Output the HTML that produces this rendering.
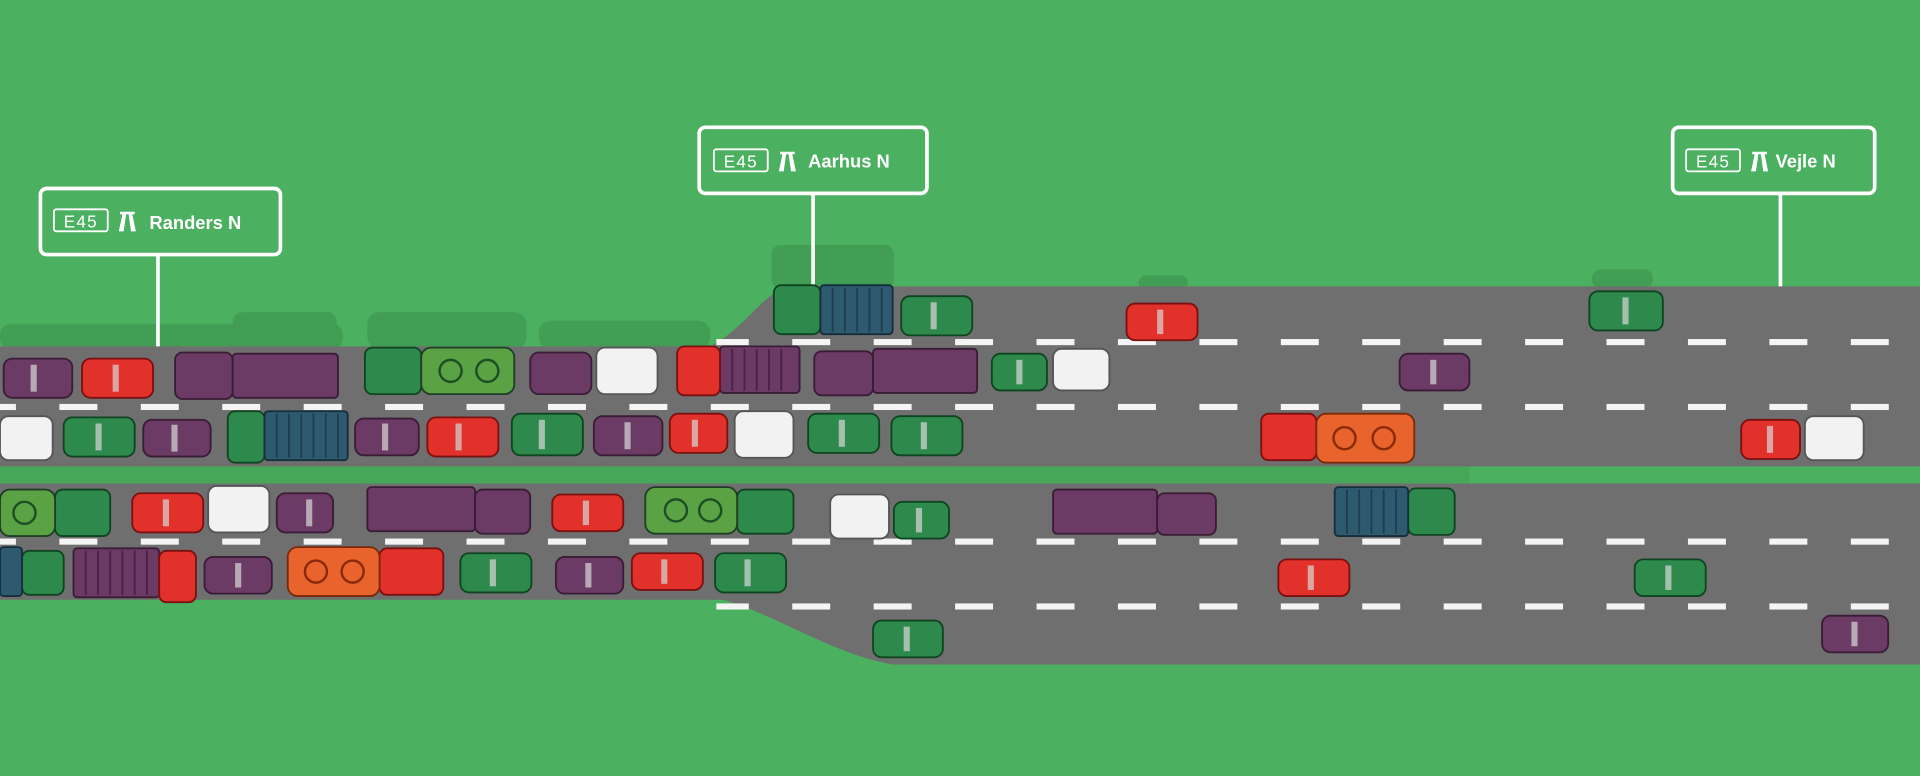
<!DOCTYPE html>
<html><head><meta charset="utf-8"><style>
html,body{margin:0;padding:0;background:#4bb060;overflow:hidden}
svg{display:block}
</style></head><body>
<svg width="1920" height="776" viewBox="0 0 1568 634" preserveAspectRatio="none" xmlns="http://www.w3.org/2000/svg">
<rect width="1568" height="634" fill="#4bb060"/>
<!-- shadows -->
<g fill="#3f9a52" opacity="0.8">
<rect x="0" y="265" width="280" height="20" rx="8"/>
<rect x="300" y="255" width="130" height="30" rx="10"/>
<rect x="440" y="262" width="140" height="23" rx="10"/>
<rect x="630" y="200" width="100" height="36" rx="8"/>
<rect x="190" y="255" width="85" height="30" rx="8"/>
<rect x="930" y="225" width="40" height="12" rx="6"/>
<rect x="1300" y="220" width="50" height="16" rx="8"/>
<rect x="0" y="381" width="1200" height="14" opacity="0.5"/>
</g>
<!-- roads -->
<path d="M0,283 L580,283 C605,270 615,250 640,234 L1568,234 L1568,381 L0,381 Z" fill="#6f6f6f"/>
<path d="M0,395 L1568,395 L1568,543 L730,543 C680,535 630,500 590,490 L0,490 Z" fill="#6f6f6f"/>
<!-- dashes -->
<g fill="#f4f4f4">
<rect x="585" y="277" width="983" height="5" fill="url(#d1)"/>
</g>
<defs>
<pattern id="dp" x="-18" y="0" width="66.5" height="5" patternUnits="userSpaceOnUse"><rect x="0" y="0" width="31" height="5" fill="#f4f4f4"/></pattern>
</defs>
<rect x="585" y="277" width="960" height="5" fill="url(#dp)"/>
<rect x="0" y="330" width="1550" height="5" fill="url(#dp)"/>
<rect x="0" y="440" width="1550" height="5" fill="url(#dp)"/>
<rect x="585" y="493" width="960" height="5" fill="url(#dp)"/>

<!-- signs -->
<g fill="none" stroke="#fff" stroke-width="3">
<rect x="33" y="154" width="196" height="54" rx="5"/>
<line x1="129" y1="208" x2="129" y2="283"/>
<rect x="571" y="104" width="186" height="54" rx="5"/>
<line x1="664" y1="158" x2="664" y2="234"/>
<rect x="1366" y="104" width="165" height="54" rx="5"/>
<line x1="1454" y1="158" x2="1454" y2="234"/>
<rect x="44" y="171" width="44" height="18" rx="2" stroke-width="1.5"/>
<rect x="583" y="122" width="44" height="18" rx="2" stroke-width="1.5"/>
<rect x="1377" y="122" width="44" height="18" rx="2" stroke-width="1.5"/>
</g>
<g fill="#fff" font-family="Liberation Sans, sans-serif" font-weight="bold">
<text x="66" y="186" font-size="14" text-anchor="middle" font-weight="normal" letter-spacing="1">E45</text>
<text x="605" y="137" font-size="14" text-anchor="middle" font-weight="normal" letter-spacing="1">E45</text>
<text x="1399" y="137" font-size="14" text-anchor="middle" font-weight="normal" letter-spacing="1">E45</text>
<text x="122" y="187" font-size="15">Randers N</text>
<text x="660" y="137" font-size="15">Aarhus N</text>
<text x="1450" y="137" font-size="15">Vejle N</text>
<path d="M98,173h12v2h-12zM100,175l-3,14h4l2-14zM108,175l3,14h-4l-2-14z"/>
<path d="M637,124h12v2h-12zM639,126l-3,14h4l2-14zM647,126l3,14h-4l-2-14z"/>
<path d="M1431,124h12v2h-12zM1433,126l-3,14h4l2-14zM1441,126l3,14h-4l-2-14z"/>
</g>

<!-- vehicles -->
<g stroke-width="1.5">
<!-- cars: body + windshield -->
<g stroke="#3a1c36" fill="#6b3a65">
<rect x="3" y="293" width="56" height="32" rx="7"/><rect x="117" y="343" width="55" height="30" rx="7"/>
<rect x="290" y="342" width="52" height="30" rx="7"/><rect x="485" y="340" width="56" height="32" rx="7"/>
<rect x="433" y="288" width="50" height="34" rx="7"/><rect x="226" y="403" width="46" height="32" rx="7"/>
<rect x="167" y="455" width="55" height="30" rx="7"/><rect x="454" y="455" width="55" height="30" rx="7"/>
<rect x="1143" y="289" width="57" height="30" rx="7"/><rect x="1488" y="503" width="54" height="30" rx="7"/>
<rect x="143" y="288" width="47" height="38" rx="6"/><rect x="190" y="289" width="86" height="36" rx="3"/>
<rect x="588" y="283" width="65" height="38" rx="3"/>
<rect x="665" y="287" width="48" height="36" rx="6"/><rect x="713" y="285" width="85" height="36" rx="3"/>
<rect x="300" y="398" width="88" height="36" rx="3"/><rect x="388" y="400" width="45" height="36" rx="6"/>
<rect x="860" y="400" width="85" height="36" rx="3"/><rect x="945" y="403" width="48" height="34" rx="6"/>
<rect x="60" y="448" width="70" height="40" rx="3"/>
</g>
<g stroke="#7a1010" fill="#e2302a">
<rect x="67" y="293" width="58" height="32" rx="7"/><rect x="349" y="341" width="58" height="32" rx="7"/>
<rect x="547" y="338" width="47" height="32" rx="7"/><rect x="920" y="248" width="58" height="30" rx="7"/>
<rect x="108" y="403" width="58" height="32" rx="7"/><rect x="451" y="404" width="58" height="30" rx="7"/>
<rect x="516" y="452" width="58" height="30" rx="7"/><rect x="1044" y="457" width="58" height="30" rx="7"/>
<rect x="1422" y="343" width="48" height="32" rx="7"/>
<rect x="553" y="283" width="35" height="40" rx="6"/><rect x="1030" y="338" width="45" height="38" rx="6"/>
<rect x="130" y="450" width="30" height="42" rx="6"/><rect x="310" y="448" width="52" height="38" rx="6"/>
</g>
<g stroke="#0f4420" fill="#2e8a4c">
<rect x="52" y="341" width="58" height="32" rx="7"/><rect x="418" y="338" width="58" height="34" rx="7"/>
<rect x="660" y="338" width="58" height="32" rx="7"/><rect x="728" y="340" width="58" height="32" rx="7"/>
<rect x="810" y="289" width="45" height="30" rx="7"/><rect x="736" y="242" width="58" height="32" rx="7"/>
<rect x="1298" y="238" width="60" height="32" rx="7"/><rect x="730" y="410" width="45" height="30" rx="7"/>
<rect x="376" y="452" width="58" height="32" rx="7"/><rect x="584" y="452" width="58" height="32" rx="7"/>
<rect x="1335" y="457" width="58" height="30" rx="7"/><rect x="713" y="507" width="57" height="30" rx="7"/>
<rect x="298" y="284" width="46" height="38" rx="6"/><rect x="186" y="336" width="30" height="42" rx="6"/>
<rect x="632" y="233" width="38" height="40" rx="6"/><rect x="45" y="400" width="45" height="38" rx="6"/>
<rect x="602" y="400" width="46" height="36" rx="6"/><rect x="1150" y="399" width="38" height="38" rx="6"/>
<rect x="18" y="450" width="34" height="36" rx="6"/>
</g>
<g stroke="#1e3f24" fill="#5ba244">
<rect x="344" y="284" width="76" height="38" rx="8"/><rect x="0" y="400" width="45" height="38" rx="8"/>
<rect x="527" y="398" width="75" height="38" rx="8"/>
</g>
<g stroke="#7a2a0a" fill="#e8642c">
<rect x="1075" y="338" width="80" height="40" rx="8"/><rect x="235" y="447" width="75" height="40" rx="8"/>
</g>
<g stroke="#142f3a" fill="#2e5a70">
<rect x="216" y="336" width="68" height="40" rx="3"/><rect x="670" y="233" width="59" height="40" rx="3"/>
<rect x="1090" y="398" width="60" height="40" rx="3"/><rect x="0" y="447" width="18" height="40" rx="3"/>
</g>
<g stroke="#555" fill="#f2f2f2">
<rect x="487" y="284" width="50" height="38" rx="7"/><rect x="0" y="340" width="43" height="36" rx="7"/>
<rect x="600" y="336" width="48" height="38" rx="7"/><rect x="860" y="285" width="46" height="34" rx="7"/>
<rect x="170" y="397" width="50" height="38" rx="7"/><rect x="678" y="404" width="48" height="36" rx="7"/>
<rect x="1474" y="340" width="48" height="36" rx="7"/>
</g>
</g>
<!-- windshields -->
<g fill="#d8d8d8" opacity="0.7">
<rect x="25" y="298" width="5" height="22"/><rect x="92" y="298" width="5" height="22"/>
<rect x="140" y="347" width="5" height="22"/><rect x="312" y="346" width="5" height="22"/>
<rect x="372" y="346" width="5" height="22"/><rect x="440" y="343" width="5" height="24"/>
<rect x="510" y="345" width="5" height="22"/><rect x="565" y="343" width="5" height="22"/>
<rect x="78" y="346" width="5" height="22"/><rect x="685" y="343" width="5" height="22"/>
<rect x="752" y="345" width="5" height="22"/><rect x="830" y="294" width="5" height="20"/>
<rect x="945" y="253" width="5" height="20"/><rect x="760" y="247" width="5" height="22"/>
<rect x="1325" y="243" width="5" height="22"/><rect x="1168" y="294" width="5" height="20"/>
<rect x="1443" y="348" width="5" height="22"/><rect x="133" y="408" width="5" height="22"/>
<rect x="476" y="409" width="5" height="20"/><rect x="748" y="415" width="5" height="20"/>
<rect x="192" y="460" width="5" height="20"/><rect x="400" y="457" width="5" height="22"/>
<rect x="478" y="460" width="5" height="20"/><rect x="540" y="457" width="5" height="20"/>
<rect x="608" y="457" width="5" height="22"/><rect x="1068" y="462" width="5" height="20"/>
<rect x="1360" y="462" width="5" height="20"/><rect x="738" y="512" width="5" height="20"/>
<rect x="1512" y="508" width="5" height="20"/><rect x="250" y="408" width="5" height="22"/>
</g>
<!-- tanker circles -->
<g fill="none" stroke-width="2">
<g stroke="#1e4f24"><circle cx="368" cy="303" r="9"/><circle cx="398" cy="303" r="9"/><circle cx="552" cy="417" r="9"/><circle cx="580" cy="417" r="9"/><circle cx="20" cy="419" r="9"/></g>
<g stroke="#8a2a0a"><circle cx="1098" cy="358" r="9"/><circle cx="1130" cy="358" r="9"/><circle cx="258" cy="467" r="9"/><circle cx="288" cy="467" r="9"/></g>
</g>
<!-- trailer stripes -->
<g stroke="#1f3d4c" stroke-width="1.5">
<path d="M226,338v36M236,338v36M246,338v36M256,338v36M266,338v36M276,338v36M680,235v36M690,235v36M700,235v36M710,235v36M720,235v36M1100,400v36M1110,400v36M1120,400v36M1130,400v36M1140,400v36"/>
</g>
<g stroke="#4a2246" stroke-width="1.5">
<path d="M598,285v34M608,285v34M618,285v34M628,285v34M638,285v34M70,450v36M80,450v36M90,450v36M100,450v36M110,450v36M120,450v36"/>
</g>
</svg>
</body></html>
